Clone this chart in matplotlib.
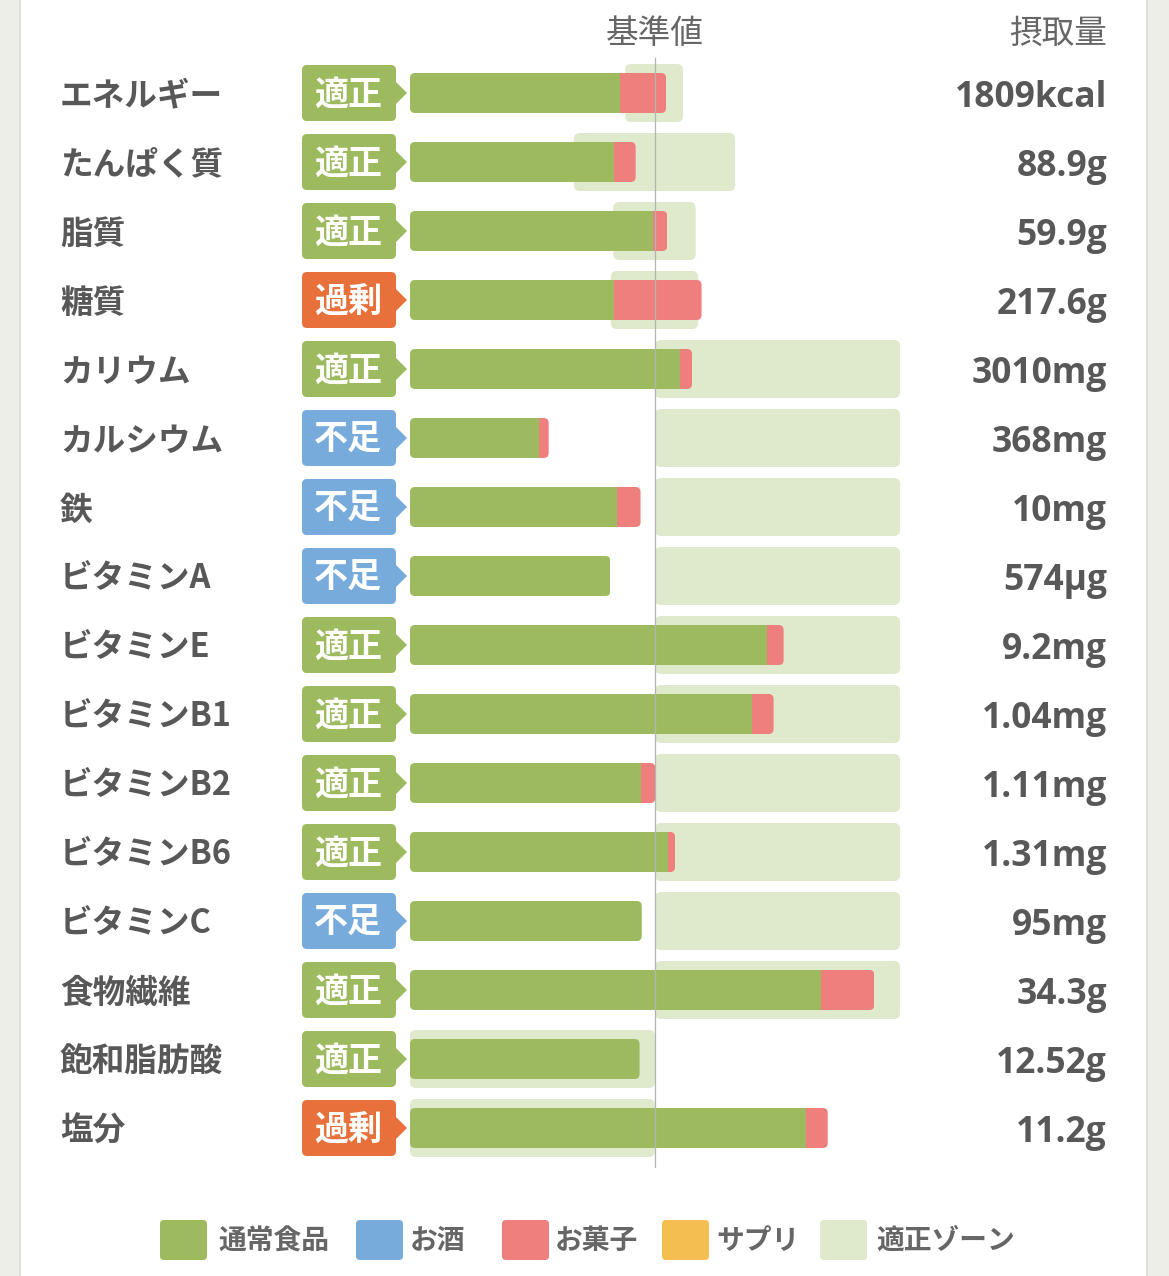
import matplotlib
matplotlib.use("Agg")
import matplotlib.pyplot as plt
from matplotlib.patches import FancyBboxPatch, Rectangle, Polygon

plt.rcParams['font.family'] = ['Noto Sans CJK JP', 'DejaVu Sans']

# ---------------- data ----------------
nutrients = ["エネルギー", "たんぱく質", "脂質", "糖質", "カリウム", "カルシウム", "鉄",
             "ビタミンA", "ビタミンE", "ビタミンB1", "ビタミンB2", "ビタミンB6",
             "ビタミンC", "食物繊維", "飽和脂肪酸", "塩分"]
status = ["適正", "適正", "適正", "過剰", "適正", "不足", "不足", "不足",
          "適正", "適正", "適正", "適正", "不足", "適正", "適正", "過剰"]
# percent of reference value (基準値 = 100)
food_pct = [85.7, 83.3, 99.3, 83.3, 110.2, 52.5, 84.4, 81.8,
            145.7, 139.6, 94.1, 105.2, 94.6, 167.6, 93.7, 161.6]
snack_pct = [18.8, 8.8, 5.7, 35.7, 4.9, 4.1, 9.7, 0.0,
             6.8, 8.8, 6.0, 3.0, 0.0, 21.9, 0.0, 8.9]
zone_lo = [87.8, 66.9, 83.0, 82.0, 100, 100, 100, 100,
           100, 100, 100, 100, 100, 100, 0, 0]
zone_hi = [111.4, 132.7, 116.6, 117.6, 200, 200, 200, 200,
           200, 200, 200, 200, 200, 200, 100, 100]
intake = ["1809kcal", "88.9g", "59.9g", "217.6g", "3010mg", "368mg", "10mg",
          "574µg", "9.2mg", "1.04mg", "1.11mg", "1.31mg", "95mg", "34.3g",
          "12.52g", "11.2g"]
legend_labels = ["通常食品", "お酒", "お菓子", "サプリ", "適正ゾーン"]

# ---------------- style ----------------
C_FOOD = "#9dbb5e"
C_ALC = "#76abdc"
C_SNACK = "#ee7f7d"
C_SUPP = "#f4be50"
C_ZONE = "#dfe9cc"
C_OVER = "#e8703a"
badge_color = {"適正": C_FOOD, "過剰": C_OVER, "不足": C_ALC}
TXT = "#585858"

W, H = 1169, 1276
fig = plt.figure(figsize=(W / 100, H / 100), dpi=100, facecolor="#eeeee8")
ax = fig.add_axes([0, 0, 1, 1])
ax.set_axis_off()

X0, PX = 410.0, 2.45      # pixel of 0 %, pixels per %
Y0, PY = 93.0, 69.0       # pixel of first row centre, pixels per row


def px2x(p):
    return (p - X0) / PX


def py2y(p):
    return (p - Y0) / PY


ax.set_xlim(px2x(0), px2x(W))
ax.set_ylim(py2y(H), py2y(0))

ASP = PX / PY  # mutation aspect for round corners


def rbox(x, y, w, h, r_px, **kw):
    return FancyBboxPatch((x, y), w, h,
                          boxstyle=f"round,pad=0,rounding_size={r_px / PX}",
                          mutation_aspect=ASP, **kw)


# white panel
ax.add_patch(Rectangle((px2x(20), py2y(H)), (1127) / PX, py2y(0) - py2y(H),
                       facecolor="white", edgecolor="none", zorder=0))
for xp in (20, 1147):
    ax.plot([px2x(xp), px2x(xp)], [py2y(0), py2y(H)], color="#dcdcd3", lw=1.2, zorder=0.5)

BAR_H = 40 / PY
ZONE_H = 58 / PY
BADGE_H = 56 / PY

rows = list(range(len(nutrients)))

for i in rows:
    # zone
    ax.add_patch(rbox(zone_lo[i], i - ZONE_H / 2, zone_hi[i] - zone_lo[i], ZONE_H, 6,
                      facecolor=C_ZONE, edgecolor="none", zorder=1))

# stacked bars clipped to rounded outline
b_food = ax.barh(rows, food_pct, height=BAR_H, left=0, color=C_FOOD, zorder=2)
b_snack = ax.barh(rows, snack_pct, height=BAR_H, left=food_pct, color=C_SNACK, zorder=2)
for i in rows:
    total = food_pct[i] + snack_pct[i]
    clip = rbox(0, i - BAR_H / 2, total, BAR_H, 5, facecolor="none",
                edgecolor="none", transform=ax.transData)
    ax.add_patch(clip)
    b_food[i].set_clip_path(clip)
    b_snack[i].set_clip_path(clip)

# badges
for i in rows:
    col = badge_color[status[i]]
    ax.add_patch(rbox(px2x(302), i - BADGE_H / 2, 94 / PX, BADGE_H, 5,
                      facecolor=col, edgecolor="none", zorder=2))
    ax.add_patch(Polygon([(px2x(395), i - 12 / PY), (px2x(407), i), (px2x(395), i + 12 / PY)],
                         closed=True, facecolor=col, edgecolor="none", zorder=2))
    ax.text(px2x(348), i + 1 / PY, status[i], ha="center", va="center", color="white",
            fontsize=24.5, fontweight="bold", zorder=3)
    ax.text(px2x(60), i + 3 / PY, nutrients[i], ha="left", va="center", color=TXT,
            fontsize=23.5, fontweight="bold", zorder=3)
    ax.text(px2x(1107), i + 5 / PY, intake[i], ha="right", va="center", color=TXT,
            fontsize=25.5, fontweight="bold", family=["Open Sans", "DejaVu Sans"], zorder=3)

# baseline
ax.plot([100, 100], [py2y(58), py2y(1167)], color="#b4b4b4", lw=0.9, zorder=4)

# headers
ax.text(100, py2y(34), "基準値", ha="center", va="center", color="#666666", fontsize=23.5)
ax.text(px2x(1107), py2y(34), "摂取量", ha="right", va="center", color="#666666", fontsize=23.5)

# legend
leg_sq_x = [160, 356, 502, 662, 820]
leg_tx_x = [218, 410, 555, 716, 876]
leg_cols = [C_FOOD, C_ALC, C_SNACK, C_SUPP, C_ZONE]
yl = py2y(1240)
for sx, tx, col, lab in zip(leg_sq_x, leg_tx_x, leg_cols, legend_labels):
    ax.add_patch(rbox(px2x(sx), yl - 20 / PY, 47 / PX, 40 / PY, 4,
                      facecolor=col, edgecolor="none", zorder=2))
    ax.text(px2x(tx), yl + 1 / PY, lab, ha="left", va="center", color="#666666",
            fontsize=20, fontweight="bold")

fig.savefig("out.png", dpi=100, facecolor=fig.get_facecolor())
